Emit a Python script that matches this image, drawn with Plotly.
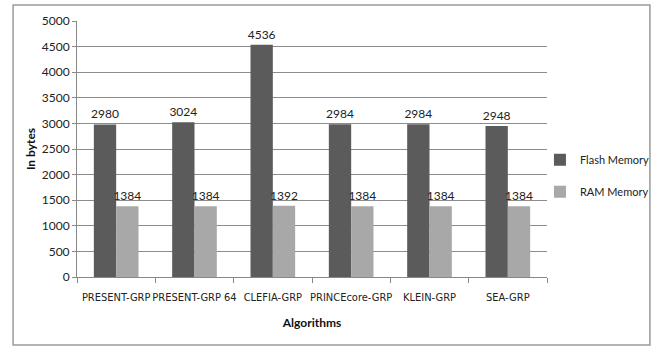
import plotly.graph_objects as go

algorithms = ["PRESENT-GRP", "PRESENT-GRP 64", "CLEFIA-GRP", "PRINCEcore-GRP", "KLEIN-GRP", "SEA-GRP"]
flash_memory = [2980, 3024, 4536, 2984, 2984, 2948]
ram_memory = [1384, 1384, 1392, 1384, 1384, 1384]
y_ticks = [0, 500, 1000, 1500, 2000, 2500, 3000, 3500, 4000, 4500, 5000]

FONT = "Lato"
NARROW = "DejaVu Sans Condensed, Lato"
fig = go.Figure()
fig.add_trace(go.Bar(
    x=algorithms, y=flash_memory, name="Flash Memory",
    marker=dict(color="#5b5b5b", line=dict(width=0)),
    text=[str(v) for v in flash_memory], textposition="outside",
    textfont=dict(family=FONT, size=12, color="#222"),
    constraintext="none", cliponaxis=False, legendgroup="f",
))
fig.add_trace(go.Bar(
    x=algorithms, y=ram_memory, name="RAM Memory",
    marker=dict(color="#a8a8a8", line=dict(width=0)),
    text=[str(v) for v in ram_memory], textposition="outside",
    textfont=dict(family=FONT, size=12, color="#222"),
    constraintext="none", cliponaxis=False, legendgroup="r",
))

fig.update_layout(
    width=655, height=347,
    margin=dict(l=77, r=108, t=21, b=70, autoexpand=False),
    paper_bgcolor="white", plot_bgcolor="white",
    barmode="group", bargap=0.43, bargroupgap=0,
    font=dict(family=FONT, size=12, color="#222"),
    legend=dict(
        x=0.985, y=0.515, xanchor="left", yanchor="top",
        font=dict(family=FONT, size=11, color="#222"),
        tracegroupgap=13, bgcolor="rgba(0,0,0,0)", itemwidth=30,
    ),
    xaxis=dict(
        type="category", tickson="boundaries", ticks="outside", ticklen=5,
        tickcolor="#888", showline=True, linecolor="#888", linewidth=1,
        showgrid=False, ticklabelstandoff=10, tickangle=0, automargin=False,
        tickfont=dict(family=NARROW, size=11, color="#222"),
        title=dict(text="<b>Algorithms</b>", standoff=15,
                   font=dict(family=FONT, size=12, color="#111")),
    ),
    yaxis=dict(
        range=[0, 5000], tickvals=y_ticks, ticks="outside", ticklen=4,
        tickcolor="#888", showline=True, linecolor="#888", linewidth=1,
        showgrid=True, gridcolor="#8c8c8c", gridwidth=1, zeroline=False,
        automargin=False,
        tickfont=dict(family=FONT, size=12, color="#222"),
        title=dict(text="<b>In bytes</b>", standoff=3,
                   font=dict(family=FONT, size=12, color="#111")),
    ),
)

# outer chart frame
fig.add_shape(type="rect", xref="paper", yref="paper",
              x0=-0.136, x1=1.219, y0=-0.266, y1=1.0625,
              line=dict(color="#9a9a9a", width=1.5), layer="below")

fig.write_html("out.html")
